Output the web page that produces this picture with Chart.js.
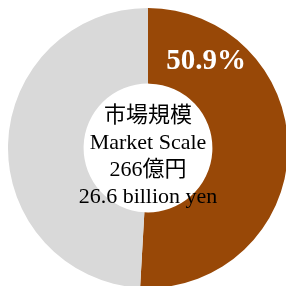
<!DOCTYPE html>
<html>
<head>
<meta charset="utf-8">
<script src="https://cdn.jsdelivr.net/npm/chart.js@4/dist/chart.umd.min.js"></script>
<style>
  html, body { margin: 0; padding: 0; background: #fff; overflow: hidden; width: 286px; height: 286px; }
  #wrap { position: absolute; left: 8px; top: 8px; width: 280px; height: 280px; }
</style>
</head>
<body>
<div id="wrap"><canvas id="chart-market-share" width="280" height="280"></canvas></div>
<script>
const labels = ['Share', 'Others'];
const shares = [50.9, 49.1];
const colors = ['#984807', '#D9D9D9'];
const centerLines = ['市場規模', 'Market Scale', '266億円', '26.6 billion yen'];
const shareLabel = '50.9%';

const serif = '"Liberation Serif", "DejaVu Serif", "Noto Sans CJK JP", serif';

const centerText = {
    id: 'centerText',
    afterDraw(chart) {
        const ctx = chart.ctx;
        const arc = chart.getDatasetMeta(0).data[0];
        const cx = arc.x, cy = arc.y;
        ctx.save();
        ctx.textAlign = 'center';
        ctx.textBaseline = 'middle';
        ctx.fillStyle = '#000';
        ctx.font = '22px ' + serif;
        centerLines.forEach(function (line, i) {
            ctx.fillText(line, cx, cy - 32 + i * 27);
        });
        ctx.fillStyle = '#fff';
        ctx.font = 'bold 29px ' + serif;
        ctx.fillText(shareLabel, cx + 58, cy - 86);
        ctx.restore();
    }
};

const ctx = document.getElementById('chart-market-share').getContext('2d');
const myChart = new Chart(ctx, {
    type: 'doughnut',
    data: {
        labels: labels,
        datasets: [{
            data: shares,
            backgroundColor: colors,
            borderWidth: 0
        }]
    },
    options: {
        responsive: false,
        animation: false,
        cutout: '46%',
        plugins: {
            legend: { display: false },
            tooltip: { enabled: false }
        }
    },
    plugins: [centerText]
});
</script>
</body>
</html>
